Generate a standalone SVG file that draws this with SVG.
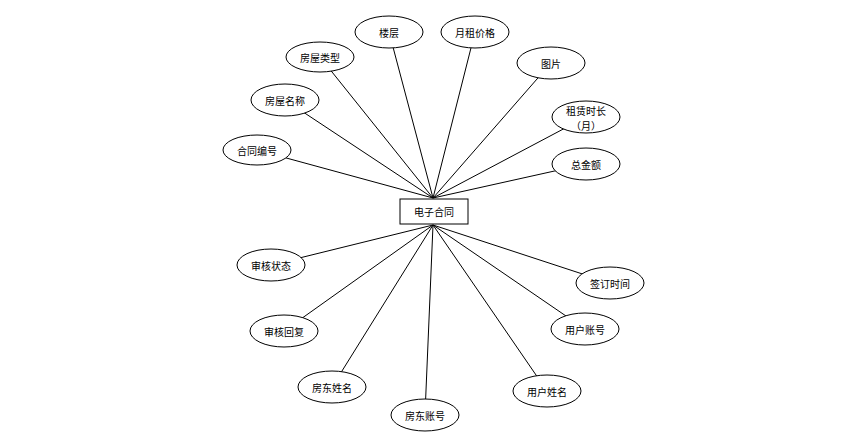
<svg xmlns="http://www.w3.org/2000/svg" width="860" height="445" viewBox="0 0 860 445">
<style>
.n ellipse{fill:#fff;stroke:#000;stroke-width:1}
.n rect{fill:#fff;stroke:#000;stroke-width:1}
.n text{font-family:"Noto Sans CJK SC","Liberation Sans",sans-serif;font-size:10px;fill:#000;text-anchor:middle;dominant-baseline:central}
#edges line{stroke:#000;stroke-width:1}
</style>
<rect width="860" height="445" fill="#fff"/>
<g id="edges">
<line x1="389" y1="32" x2="433" y2="198"/>
<line x1="475" y1="32" x2="433" y2="198"/>
<line x1="320" y1="57" x2="433" y2="198"/>
<line x1="285" y1="100" x2="433" y2="198"/>
<line x1="551" y1="63" x2="433" y2="198"/>
<line x1="586" y1="117" x2="433" y2="198"/>
<line x1="586" y1="164" x2="433" y2="198"/>
<line x1="257" y1="150" x2="433" y2="198"/>
<line x1="271" y1="265" x2="433" y2="225"/>
<line x1="284" y1="331" x2="433" y2="225"/>
<line x1="332" y1="387" x2="433" y2="225"/>
<line x1="425" y1="414" x2="433" y2="225"/>
<line x1="610" y1="283" x2="433" y2="225"/>
<line x1="585" y1="329" x2="433" y2="225"/>
<line x1="547" y1="391" x2="433" y2="225"/>
</g>
<g id="center" class="n"><rect x="400" y="199" width="68" height="25"/><text x="434" y="211.5">电子合同</text></g>
<g id="louceng" class="n"><ellipse cx="389" cy="32" rx="34" ry="16"/><text x="389" y="32">楼层</text></g>
<g id="yuezu" class="n"><ellipse cx="475" cy="32" rx="34" ry="16"/><text x="475" y="32">月租价格</text></g>
<g id="leixing" class="n"><ellipse cx="320" cy="57" rx="34" ry="15"/><text x="320" y="57">房屋类型</text></g>
<g id="mingcheng" class="n"><ellipse cx="285" cy="100" rx="34" ry="16"/><text x="285" y="100">房屋名称</text></g>
<g id="tupian" class="n"><ellipse cx="551" cy="63" rx="34" ry="16"/><text x="551" y="63">图片</text></g>
<g id="shichang" class="n"><ellipse cx="586" cy="117" rx="34" ry="16"/><text x="586" y="110">租赁时长</text><text x="586" y="125">（月）</text></g>
<g id="zongjine" class="n"><ellipse cx="586" cy="164" rx="34" ry="16"/><text x="586" y="164">总金额</text></g>
<g id="bianhao" class="n"><ellipse cx="257" cy="150" rx="34" ry="15"/><text x="257" y="150">合同编号</text></g>
<g id="zhuangtai" class="n"><ellipse cx="271" cy="265" rx="34" ry="16"/><text x="271" y="265">审核状态</text></g>
<g id="huifu" class="n"><ellipse cx="284" cy="331" rx="34" ry="16"/><text x="284" y="331">审核回复</text></g>
<g id="fdxm" class="n"><ellipse cx="332" cy="387" rx="34" ry="16"/><text x="332" y="387">房东姓名</text></g>
<g id="fdzh" class="n"><ellipse cx="425" cy="415" rx="34" ry="16"/><text x="425" y="415">房东账号</text></g>
<g id="qianding" class="n"><ellipse cx="610" cy="283" rx="34" ry="16"/><text x="610" y="283">签订时间</text></g>
<g id="yhzh" class="n"><ellipse cx="585" cy="329" rx="34" ry="16"/><text x="585" y="329">用户账号</text></g>
<g id="yhxm" class="n"><ellipse cx="547" cy="391" rx="34" ry="16"/><text x="547" y="391">用户姓名</text></g>
</svg>
